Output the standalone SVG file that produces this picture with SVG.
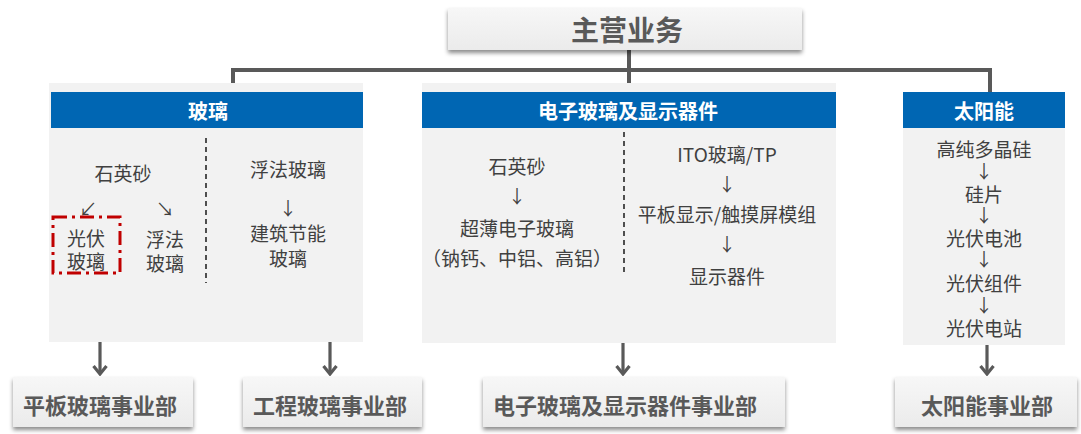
<svg xmlns="http://www.w3.org/2000/svg" width="1081" height="434" viewBox="0 0 1081 434">
<defs>
<filter id="sh" x="-10%" y="-20%" width="120%" height="160%">
<feDropShadow dx="0" dy="3" stdDeviation="2" flood-color="#000" flood-opacity="0.45"/>
</filter>
<linearGradient id="bg" x1="0" y1="0" x2="0" y2="1">
<stop offset="0" stop-color="#f7f7f7"/>
<stop offset="1" stop-color="#ebebeb"/>
</linearGradient>
<marker id="ah" viewBox="0 0 12 16" refX="10" refY="8" markerWidth="12" markerHeight="16" markerUnits="userSpaceOnUse" orient="auto">
<path d="M2,1.5 L10,8 L2,14.5" fill="none" stroke="#595959" stroke-width="3.2" stroke-linejoin="miter"/>
</marker>
</defs>
<style>
.box{fill:url(#bg);filter:url(#sh);}
.title{font-family:"Noto Sans CJK SC","Noto Sans",sans-serif;font-weight:bold;fill:#595959;text-anchor:middle;dominant-baseline:central;}
.hd{fill:#0066b3;}
.body{fill:#f2f2f2;}
.ht{font-family:"Noto Sans CJK SC","Noto Sans",sans-serif;font-weight:bold;font-size:20px;fill:#fff;text-anchor:middle;dominant-baseline:central;}
.t{font-family:"Noto Sans CJK SC","Noto Sans",sans-serif;font-size:19px;fill:#404040;text-anchor:middle;dominant-baseline:central;}
.ar{font-family:"Noto Sans CJK SC",sans-serif;font-size:18px;fill:#404040;text-anchor:middle;dominant-baseline:central;}
.dv{stroke:#262626;stroke-width:1.6;stroke-dasharray:5 4;fill:none;}
.ln{stroke:#595959;stroke-width:4;fill:none;}
.arr{stroke:#595959;stroke-width:3.2;fill:none;}
</style>

<g id="connectors">
<path class="ln" d="M629,50 V92"/>
<path class="ln" d="M233,92 V70 H990 V92"/>
<path class="arr" d="M100,342 V374" marker-end="url(#ah)"/>
<path class="arr" d="M330,342 V374" marker-end="url(#ah)"/>
<path class="arr" d="M623,343 V374" marker-end="url(#ah)"/>
<path class="arr" d="M987,345 V374" marker-end="url(#ah)"/>
</g>

<g id="main">
<rect class="box" x="448" y="8" width="354" height="42"/>
<text class="title" x="627" y="29" font-size="28">主营业务</text>
</g>

<g id="glass">
<rect class="body" x="49" y="83" width="314" height="259"/>
<rect class="hd" x="51" y="92" width="312" height="36"/>
<text class="ht" x="208" y="110">玻璃</text>
<line class="dv" x1="206" y1="138" x2="206" y2="283"/>
<text class="t" x="123" y="172">石英砂</text>
<text class="ar" x="88" y="208">↙</text>
<text class="ar" x="165" y="208">↘</text>
<rect x="53" y="217" width="67" height="56" fill="none" stroke="#c00000" stroke-width="3" stroke-dasharray="14 5 3 5"/>
<text class="t" x="86" y="237">光伏</text>
<text class="t" x="86" y="260">玻璃</text>
<text class="t" x="165" y="238">浮法</text>
<text class="t" x="165" y="262">玻璃</text>
<text class="t" x="288" y="168">浮法玻璃</text>
<text class="ar" x="288" y="207">↓</text>
<text class="t" x="288" y="232">建筑节能</text>
<text class="t" x="288" y="257">玻璃</text>
</g>

<g id="electronic">
<rect class="body" x="422" y="83" width="414" height="260"/>
<rect class="hd" x="422" y="92" width="414" height="36"/>
<text class="ht" x="628" y="110">电子玻璃及显示器件</text>
<line class="dv" x1="624" y1="132" x2="624" y2="275"/>
<text class="t" x="517" y="165">石英砂</text>
<text class="ar" x="517" y="195">↓</text>
<text class="t" x="517" y="227">超薄电子玻璃</text>
<text class="t" x="517" y="257">（钠钙、中铝、高铝）</text>
<text class="t" x="727" y="153">ITO玻璃/TP</text>
<text class="ar" x="727" y="183">↓</text>
<text class="t" x="727" y="213">平板显示/触摸屏模组</text>
<text class="ar" x="727" y="243">↓</text>
<text class="t" x="727" y="275">显示器件</text>
</g>

<g id="solar">
<rect class="body" x="903" y="92" width="162" height="253"/>
<rect class="hd" x="903" y="92" width="162" height="36"/>
<text class="ht" x="984" y="110">太阳能</text>
<text class="t" x="984" y="148">高纯多晶硅</text>
<text class="ar" x="984" y="170">↓</text>
<text class="t" x="984" y="193">硅片</text>
<text class="ar" x="984" y="214">↓</text>
<text class="t" x="984" y="237">光伏电池</text>
<text class="ar" x="984" y="258">↓</text>
<text class="t" x="984" y="282">光伏组件</text>
<text class="ar" x="984" y="304">↓</text>
<text class="t" x="984" y="327">光伏电站</text>
</g>

<g id="dept-flat">
<rect class="box" x="13" y="377" width="180" height="50"/>
<text class="title" x="100" y="404" font-size="22">平板玻璃事业部</text>
</g>
<g id="dept-eng">
<rect class="box" x="243" y="377" width="179" height="50"/>
<text class="title" x="330" y="404" font-size="22">工程玻璃事业部</text>
</g>
<g id="dept-elec">
<rect class="box" x="483" y="377" width="302" height="50"/>
<text class="title" x="625" y="404" font-size="22">电子玻璃及显示器件事业部</text>
</g>
<g id="dept-solar">
<rect class="box" x="895" y="377" width="182" height="50"/>
<text class="title" x="987" y="404" font-size="22">太阳能事业部</text>
</g>
</svg>
